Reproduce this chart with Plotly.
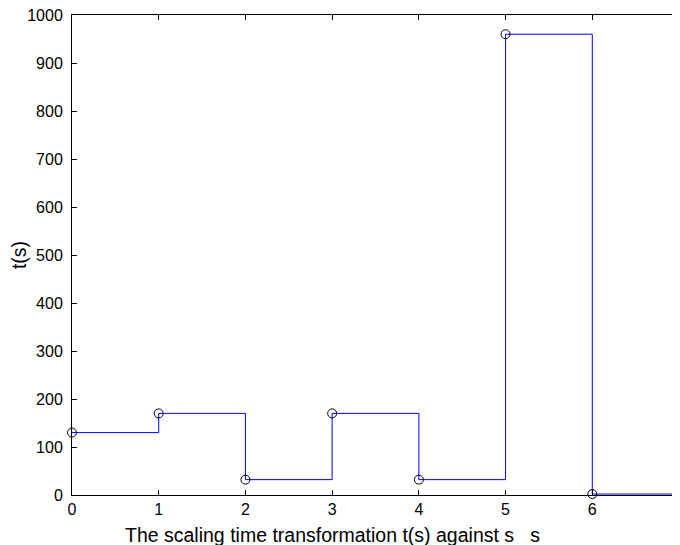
import plotly.graph_objects as go

s_values = [0, 1, 2, 3, 4, 5, 6, 7]
t_values = [130, 170, 32, 170, 32, 960, 2, 2]
x_ticks = [0, 1, 2, 3, 4, 5, 6, 7]
y_ticks = [0, 100, 200, 300, 400, 500, 600, 700, 800, 900, 1000]
x_title = "The scaling time transformation t(s) against s\u00a0\u00a0\u00a0s"
y_title = "t(s)"

fig = go.Figure()
fig.add_trace(go.Scatter(x=s_values, y=t_values, mode="lines",
                         line=dict(shape="hv", color="#0000ff", width=1),
                         showlegend=False, hoverinfo="skip"))
fig.add_trace(go.Scatter(x=s_values, y=t_values, mode="markers",
                         marker=dict(symbol="circle-open", color="black", size=9,
                                     line=dict(width=1, color="black")),
                         showlegend=False, cliponaxis=False))

fam = "Liberation Sans, Arial, Helvetica, sans-serif"
tick_font = dict(family=fam, size=16, color="black")
title_font = dict(family=fam, size=19.5, color="black")
axis_common = dict(showline=True, linecolor="black", linewidth=1, mirror="ticks",
                   ticks="inside", ticklen=5, tickcolor="black", tickwidth=1,
                   showgrid=False, zeroline=False, tickfont=tick_font, automargin=False,
                   ticklabeloverflow="allow")

# page body has an 8px margin, so the figure is sized/offset to compensate
fig.update_layout(
    width=672, height=537,
    margin=dict(l=64, r=1, t=7, b=50),
    paper_bgcolor="white", plot_bgcolor="white",
    font=tick_font,
    xaxis=dict(range=[0, 7], tickvals=x_ticks, ticktext=[str(v) for v in x_ticks],
               **axis_common),
    yaxis=dict(range=[0, 1000], tickvals=y_ticks, ticktext=[str(v) for v in y_ticks],
               ticklabelstandoff=5,
               title=dict(text=y_title, font=title_font, standoff=8), **axis_common),
    annotations=[dict(text=x_title, xref="paper", yref="paper", x=0.429, y=0,
                      xanchor="center", yanchor="middle", yshift=-40,
                      showarrow=False, font=title_font)],
)
fig.write_html("out.html")
